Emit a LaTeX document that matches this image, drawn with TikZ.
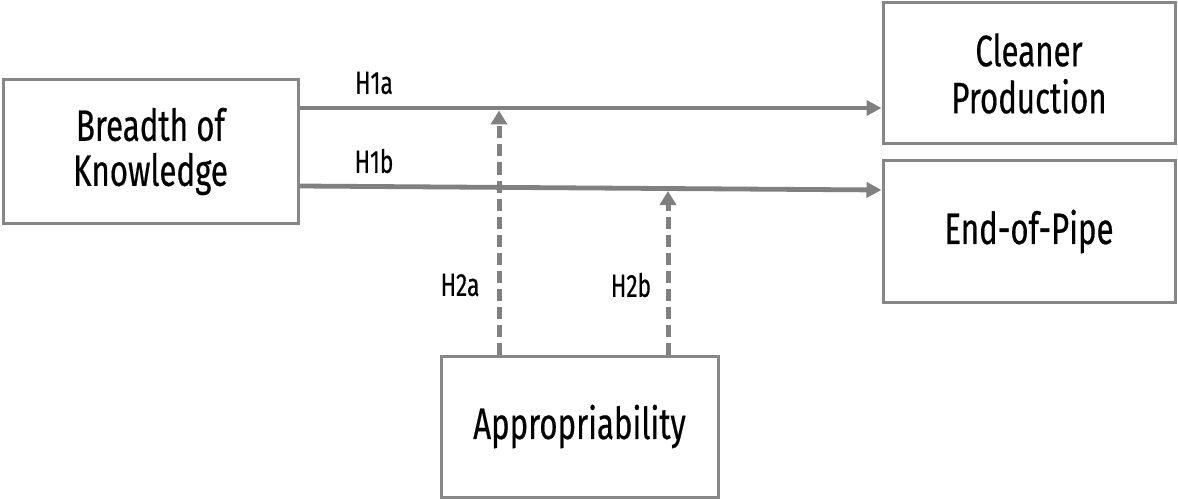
\documentclass[tikz,border=0pt]{standalone}
\usepackage{fontspec}
\setmainfont{Fira Sans}[FakeStretch=0.71,FakeBold=0.4]
\usetikzlibrary{arrows.meta}
\definecolor{linegray}{HTML}{808080}
\definecolor{boxgray}{HTML}{878787}
\tikzset{
  box/.style={draw=boxgray, line width=3pt, inner sep=0pt, align=center,
    font=\fontsize{44}{45}\selectfont, text=black},
  arr/.style={draw=linegray, line width=4.8pt,
    -{Triangle[length=15pt,width=15pt]}},
  darr/.style={draw=linegray, line width=5pt, dash pattern=on 12pt off 6pt,
    -{Triangle[length=14pt,width=16pt]}},
  lbl/.style={font=\fontsize{32}{34}\selectfont, text=black, inner sep=0pt}
}
\begin{document}
\begin{tikzpicture}[x=1pt,y=-1pt]
\useasboundingbox[fill=white] (0,0) rectangle (1178,500);
\node[box, minimum width=295pt, minimum height=143pt] (bk) at (150.5,151.5) {Breadth of\\Knowledge};
\node[box, minimum width=292pt, minimum height=141pt] (cp) at (1029,73.5) {Cleaner\\[2pt]Production};
\node[box, minimum width=292pt, minimum height=141pt] (eop) at (1029,231.5) {End-of-Pipe};
\node[box, minimum width=277pt, minimum height=141pt] (ap) at (579.5,426.5) {Appropriability};
\coordinate (t2a) at (499,110.5);
\coordinate (t2b) at (668,191);
\draw[arr] ([yshift=43.5pt]bk.east) -- ([yshift=-34.5pt]cp.west);
\draw[arr] ([yshift=-34.5pt]bk.east) -- ([yshift=41.5pt]eop.west);
\draw[darr] ([xshift=-80.5pt]ap.north) -- (t2a);
\draw[darr] ([xshift=88.5pt]ap.north) -- (t2b);
\node[lbl] (l1a) at (374,83) {H1a};
\node[lbl] (l1b) at (374,161) {H1b};
\node[lbl] (l2a) at (460,285) {H2a};
\node[lbl] (l2b) at (631,285) {H2b};
\end{tikzpicture}
\end{document}
